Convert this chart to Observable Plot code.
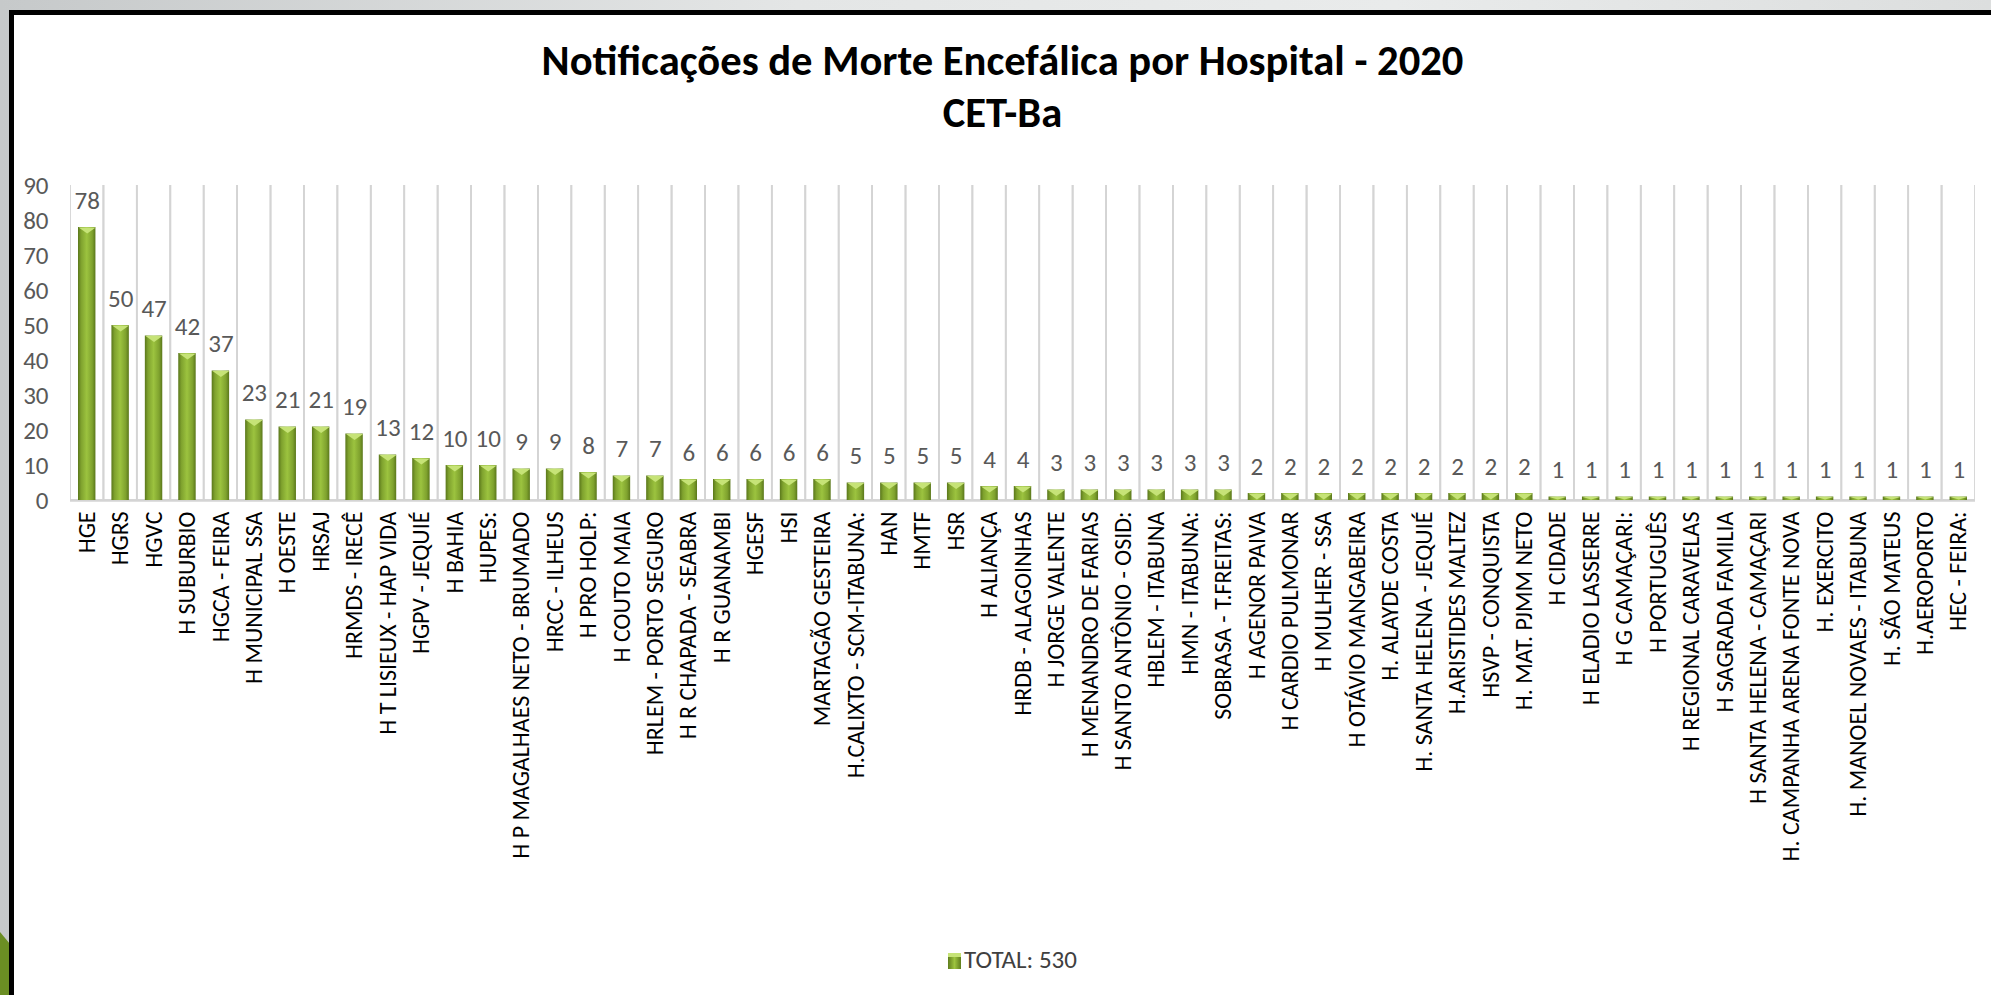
<!DOCTYPE html>
<html>
<head>
<meta charset="utf-8">
<script src="https://cdn.jsdelivr.net/npm/d3@7"></script>
<script src="https://cdn.jsdelivr.net/npm/@observablehq/plot@0.6"></script>
<style>
  html, body { margin: 0; padding: 0; width: 1991px; height: 995px; overflow: hidden; }
  body { position: relative; background: linear-gradient(90deg, #c6c9ca 0%, #e4e6e6 40%, #e9ebeb 70%, #dcdede 100%); font-family: Carlito, Lato, sans-serif; }
  #deco { position: absolute; left: 0; top: 932px; width: 10px; height: 63px; background: #6b8e23; clip-path: polygon(0 0, 100% 12px, 100% 100%, 0 100%); }
  #frame { position: absolute; left: 9px; top: 10px; width: 1977px; height: 980px; background: #fff; border-top: 5px solid #000; border-left: 5px solid #000; }
  .ttl { position: absolute; left: 0; right: 0; text-align: center; font-weight: bold; font-size: 42.6px; color: #000; line-height: 50px; }
  #title { top: 20px; }
  #subtitle { top: 72px; }
  #chart { position: absolute; left: 0; top: 115px; width: 1977px; height: 760px; }
  #chart svg { display: block; max-width: none; }
  #legend { position: absolute; top: 930px; left: 20px; right: 0; text-align: center; font-size: 25px; color: #404040; line-height: 30px; }
  #legend .sw { display: inline-block; width: 13px; height: 16px; margin-right: 3px; vertical-align: -1px; background: linear-gradient(90deg, #5f7d1d, #9dc43f 50%, #5f7d1d); border-top: 4px solid #c6e377; box-sizing: border-box; }
</style>
</head>
<body>
<div id="deco"></div>
<div id="frame">
  <div id="title" class="ttl">Notificações de Morte Encefálica por Hospital - 2020</div>
  <div id="subtitle" class="ttl">CET-Ba</div>
  <div id="chart"></div>
  <div id="legend"><span class="sw"></span><span id="legendText"></span></div>
</div>
<script>
const hospitals = [
  "HGE", "HGRS", "HGVC", "H SUBURBIO", "HGCA - FEIRA", "H MUNICIPAL SSA", "H OESTE", "HRSAJ",
  "HRMDS - IRECÊ", "H T LISIEUX - HAP VIDA", "HGPV - JEQUIÉ", "H BAHIA", "HUPES:",
  "H P MAGALHAES NETO - BRUMADO", "HRCC - ILHEUS", "H PRO HOLP:", "H COUTO MAIA",
  "HRLEM - PORTO SEGURO", "H R CHAPADA - SEABRA", "H R GUANAMBI", "HGESF", "HSI",
  "MARTAGÃO GESTEIRA", "H.CALIXTO - SCM-ITABUNA:", "HAN", "HMTF", "HSR", "H ALIANÇA",
  "HRDB - ALAGOINHAS", "H JORGE VALENTE", "H MENANDRO DE FARIAS", "H SANTO ANTÔNIO - OSID:",
  "HBLEM - ITABUNA", "HMN - ITABUNA:", "SOBRASA - T.FREITAS:", "H AGENOR PAIVA",
  "H CARDIO PULMONAR", "H MULHER - SSA", "H OTÁVIO MANGABEIRA", "H. ALAYDE COSTA",
  "H. SANTA HELENA - JEQUIÉ", "H.ARISTIDES MALTEZ", "HSVP - CONQUISTA", "H. MAT. PJMM NETO",
  "H CIDADE", "H ELADIO LASSERRE", "H G CAMAÇARI:", "H PORTUGUÊS", "H REGIONAL CARAVELAS",
  "H SAGRADA FAMILIA", "H SANTA HELENA - CAMAÇARI", "H. CAMPANHA ARENA FONTE NOVA",
  "H. EXERCITO", "H. MANOEL NOVAES - ITABUNA", "H. SÃO MATEUS", "H.AEROPORTO", "HEC - FEIRA:"
];
const totals = [
  78, 50, 47, 42, 37, 23, 21, 21,
  19, 13, 12, 10, 10,
  9, 9, 8, 7,
  7, 6, 6, 6, 6,
  6, 5, 5, 5, 5, 4,
  4, 3, 3, 3,
  3, 3, 3, 2,
  2, 2, 2, 2,
  2, 2, 2, 2,
  1, 1, 1, 1, 1,
  1, 1, 1,
  1, 1, 1, 1, 1
];
const yTicks = [0, 10, 20, 30, 40, 50, 60, 70, 80, 90];
const seriesName = "TOTAL: 530";

document.getElementById("legendText").textContent = seriesName;

const data = hospitals.map((name, i) => ({name, value: totals[i]}));

// downward bevel triangle at the top of each bar
const bevel = {
  draw(ctx, size) {
    const h = Math.sqrt(size / Math.PI);
    const w = 8.5;
    ctx.moveTo(-w, 0);
    ctx.lineTo(w, 0);
    ctx.lineTo(0, h);
    ctx.closePath();
  }
};

const font = "Carlito, Lato, sans-serif";

const chart = Plot.plot({
  width: 1977,
  height: 760,
  marginLeft: 56,
  marginRight: 16,
  marginTop: 55,
  marginBottom: 390,
  style: {fontFamily: font, background: "transparent", maxWidth: "none"},
  x: {domain: hospitals, padding: 0, round: false, label: null},
  y: {domain: [0, 90], label: null},
  marks: [
    Plot.barY(hospitals, {x: d => d, y1: 0, y2: 100, fill: "none", stroke: "#d4d4d4", strokeWidth: 1.8, clip: true}),
    Plot.ruleY([0], {stroke: "#d4d4d4", strokeWidth: 2.5}),
    Plot.barY(data, {x: "name", y: "value", fill: "url(#barGrad)", insetLeft: 8, insetRight: 8}),
    Plot.dot(data.filter(d => d.value >= 2), {x: "name", y: "value", symbol: bevel, r: 6, fill: "#c6e377", stroke: "none"}),
    Plot.dot(data.filter(d => d.value < 2), {x: "name", y: "value", symbol: bevel, r: 2.5, fill: "#c6e377", stroke: "none"}),
    Plot.text(data, {x: "name", y: "value", text: d => String(d.value), dy: -27, fill: "#595959", fontSize: 25}),
    Plot.axisY({ticks: yTicks, tickSize: 0, tickPadding: 22, fontSize: 25, fill: "#595959", label: null}),
    Plot.axisX({tickSize: 0, tickPadding: 11, tickRotate: -90, fontSize: 24, fill: "#000", label: null})
  ]
});

// gradient definition for the bars
const ns = "http://www.w3.org/2000/svg";
const defs = document.createElementNS(ns, "defs");
const grad = document.createElementNS(ns, "linearGradient");
grad.setAttribute("id", "barGrad");
grad.setAttribute("x1", "0"); grad.setAttribute("x2", "1");
grad.setAttribute("y1", "0"); grad.setAttribute("y2", "0");
[["0%", "#5a771b"], ["18%", "#7fa22e"], ["50%", "#9cc33f"], ["82%", "#7fa22e"], ["100%", "#5a771b"]].forEach(([o, c]) => {
  const s = document.createElementNS(ns, "stop");
  s.setAttribute("offset", o);
  s.setAttribute("stop-color", c);
  grad.appendChild(s);
});
defs.appendChild(grad);
chart.insertBefore(defs, chart.firstChild);

document.getElementById("chart").appendChild(chart);
</script>
</body>
</html>
